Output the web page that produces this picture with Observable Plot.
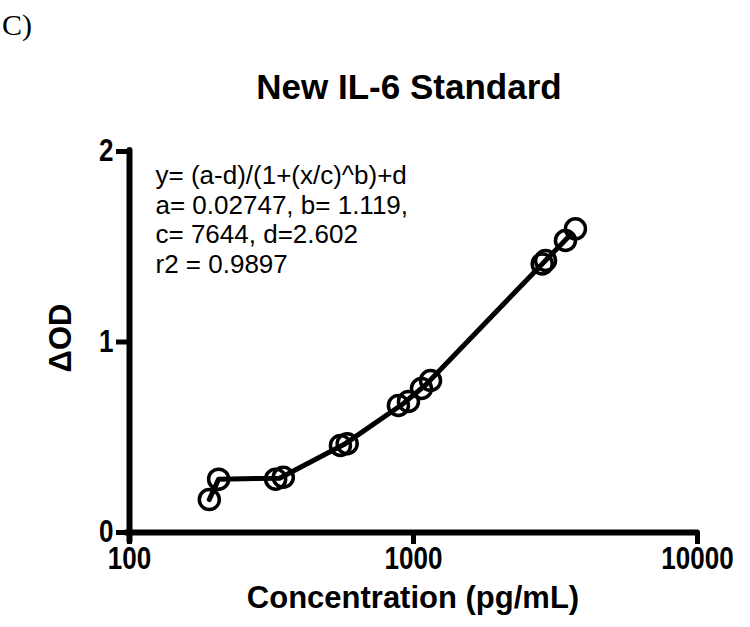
<!DOCTYPE html>
<html><head><meta charset="utf-8">
<script src="https://cdn.jsdelivr.net/npm/d3@7"></script>
<script src="https://cdn.jsdelivr.net/npm/@observablehq/plot@0.6"></script>
<style>body{margin:0;background:#fff} #chart{width:750px;height:627px}</style>
</head><body><div id="chart"></div>
<script>
// ---- data ----
const concentration = [191, 206, 327, 348, 553, 584, 885, 960, 1067, 1148, 2839, 2917, 3428, 3718];
const deltaOD       = [0.173, 0.28, 0.28, 0.29, 0.457, 0.466, 0.667, 0.688, 0.756, 0.798, 1.41, 1.428, 1.533, 1.594];
const standardId    = [1, 2, 3, 3, 4, 4, 5, 5, 6, 6, 7, 7, 8, 8];
const xTicks = [100, 1000, 10000];
const yTicks = [0, 1, 2];
const titleText = "New IL-6 Standard";
const panelLabel = "C)";
const xLabel = "Concentration (pg/mL)";
const yLabel = "\u0394OD";
const equationLines = ["y= (a-d)/(1+(x/c)^b)+d", "a= 0.02747, b= 1.119,", "c= 7644, d=2.602", "r2 = 0.9897"];

const points = concentration.map((c, i) => ({conc: c, od: deltaOD[i], std: standardId[i]}));
const means = d3.rollups(points,
    v => ({conc: d3.mean(v, d => d.conc), od: d3.mean(v, d => d.od)}),
    d => d.std)
  .map(([, m]) => m)
  .sort((a, b) => a.conc - b.conc);

const sans = "'Liberation Sans', Arial, Helvetica, sans-serif";

const plot = Plot.plot({
  width: 750, height: 627,
  marginLeft: 129, marginRight: 53, marginTop: 151, marginBottom: 95,
  style: {background: "#fff", color: "#000", fontFamily: sans},
  x: {type: "log", domain: [100, 10000]},
  y: {domain: [0, 2]},
  marks: [
    Plot.axisX({ticks: xTicks, tickFormat: d => String(d), tickSize: 12, tickPadding: 2,
      strokeWidth: 5, fontSize: 31, fontWeight: "bold", label: null}),
    Plot.axisY({ticks: yTicks, tickFormat: d => String(d), tickSize: 13, tickPadding: 3,
      strokeWidth: 5, fontSize: 31, fontWeight: "bold", label: null}),
    Plot.ruleX([100], {strokeWidth: 6, insetBottom: -9, insetTop: -1, strokeLinecap: "round"}),
    Plot.ruleY([0], {strokeWidth: 6, insetLeft: -3, strokeLinecap: "round"}),
    Plot.line(means, {x: "conc", y: "od", stroke: "#000", strokeWidth: 5, curve: "linear"}),
    Plot.dot(points, {x: "conc", y: "od", r: 10, stroke: "#000", strokeWidth: 3.5, fill: "none"}),
    Plot.text([equationLines.join("\n")], {frameAnchor: "top-left", dx: 26, dy: 12,
      lineAnchor: "top", textAnchor: "start", fontSize: 26, lineHeight: 29.5 / 26, fill: "#000"})
  ]
});

const svg = d3.select(plot);
// condensed look of the tick labels (narrow bold face in the reference)
svg.selectAll('g[aria-label="x-axis tick label"] text, g[aria-label="y-axis tick label"] text')
  .each(function() {
    const t = this.getAttribute("transform") || "";
    this.setAttribute("transform", (t + " scale(0.84,1)").trim());
  });

svg.append("text").text(titleText)
  .attr("x", 409).attr("y", 99).attr("text-anchor", "middle")
  .attr("font-family", sans).attr("font-weight", "bold").attr("font-size", 35).attr("fill", "#000");
svg.append("text").text(panelLabel)
  .attr("x", 2).attr("y", 35).attr("text-anchor", "start")
  .attr("font-family", "'Liberation Serif', 'Times New Roman', serif").attr("font-size", 30).attr("fill", "#000");
svg.append("text").text(xLabel)
  .attr("x", 413).attr("y", 608).attr("text-anchor", "middle")
  .attr("font-family", sans).attr("font-weight", "bold").attr("font-size", 31).attr("fill", "#000");
svg.append("text").text(yLabel)
  .attr("transform", "translate(71,338) rotate(-90)").attr("text-anchor", "middle")
  .attr("font-family", sans).attr("font-weight", "bold").attr("font-size", 31).attr("fill", "#000");

document.getElementById("chart").appendChild(plot);
</script>
</body></html>
